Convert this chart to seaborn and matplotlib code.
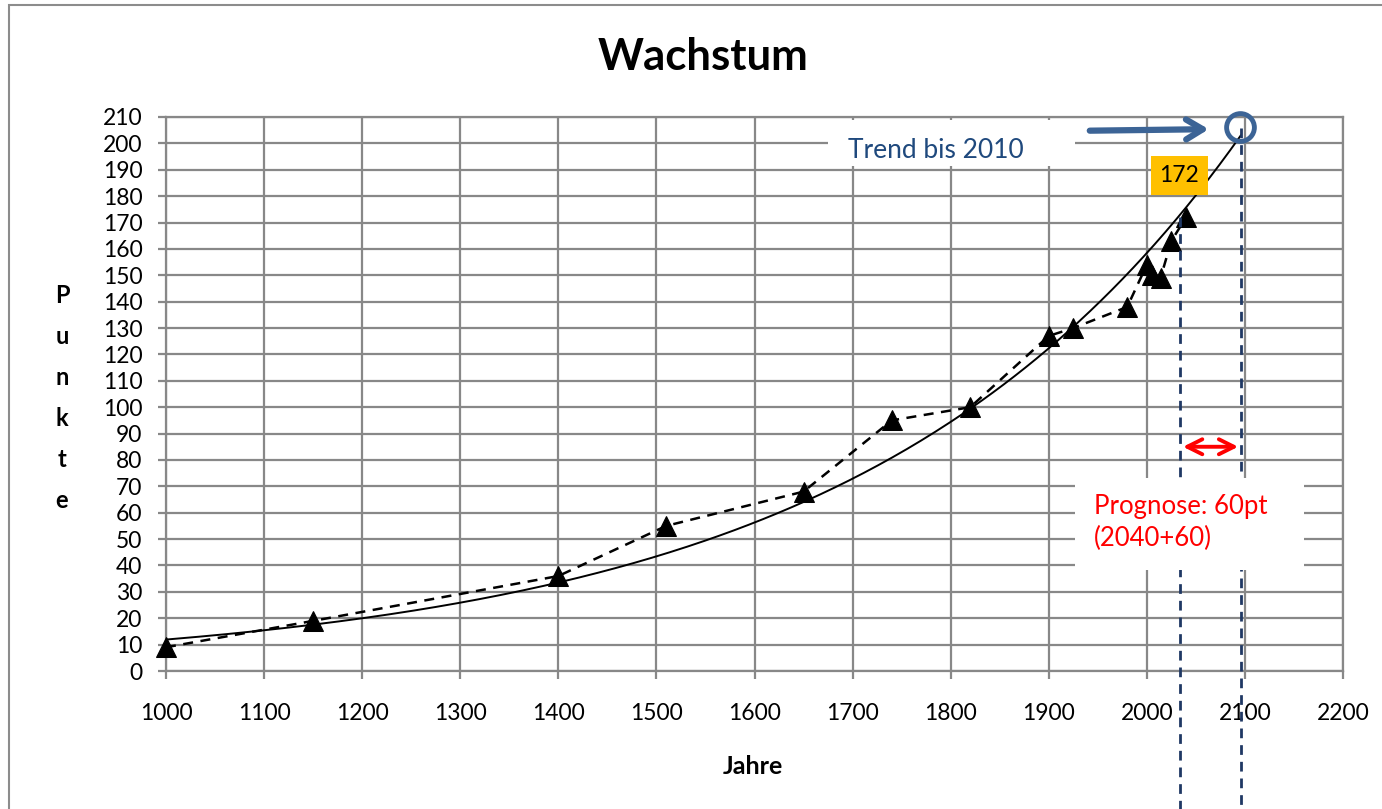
import numpy as np
import matplotlib
matplotlib.use("Agg")
import matplotlib.pyplot as plt
import seaborn as sns
from matplotlib.patches import Rectangle

# Data
years = [1000, 1150, 1400, 1510, 1650, 1740, 1820, 1900, 1925, 1980, 2000, 2005, 2014, 2025, 2040]
points = [9, 19, 36, 55, 68, 95, 100, 127, 130, 138, 154, 150, 149, 163, 172]
x_ticks = list(range(1000, 2201, 100))
y_ticks = list(range(0, 211, 10))
forecast_years = 60
last_value_label = "172"

sns.set_theme(style="white")
plt.rcParams['font.family'] = ['Lato', 'DejaVu Sans']
plt.rcParams['text.color'] = "black"

grid_col = "#888888"
navy = "#1F3864"
steel = "#3C6496"

fig = plt.figure(figsize=(13.82, 8.09), dpi=100)
ax = fig.add_axes([166 / 1382, 1 - 671 / 809, (1343 - 166) / 1382, (671 - 117) / 809])

# outer chart border (cropped on right / bottom)
fig.patches.append(Rectangle((9 / 1382, -0.1), 1.2, 1 - 5 / 809 + 0.1, transform=fig.transFigure,
                             fill=False, edgecolor="#8c8c8c", lw=1.5))

# exponential trend (least squares on ln y), extended forward
coef = np.polyfit(years, np.log(points), 1)
tx = np.linspace(years[0], years[-1] + forecast_years - 4, 300)
ty = np.exp(np.polyval(coef, tx))
ax.plot(tx, ty, color="black", lw=1.4, zorder=3)

sns.lineplot(x=years, y=points, ax=ax, color="black", linestyle="--", lw=1.8,
             marker="^", markersize=14, markeredgecolor="black", zorder=4)
ax.lines[-1].set_dashes((4, 3))
ax.lines[-1].set_clip_on(False)

ax.set_xlim(1000, 2200)
ax.set_ylim(0, 210)
ax.set_xticks(x_ticks)
ax.set_yticks(y_ticks)
ax.grid(True, color=grid_col, lw=1.6)
ax.set_axisbelow(True)
for s in ax.spines.values():
    s.set_color(grid_col)
    s.set_linewidth(1.6)
ax.tick_params(axis="both", which="major", length=6, width=1.6, color=grid_col,
               labelsize=16.5, labelcolor="black")
ax.tick_params(axis="x", pad=17)
ax.tick_params(axis="y", pad=11)
ax.tick_params(bottom=True, left=True)

fig.text(0.5087, 0.929, "Wachstum", ha="center", va="center", fontsize=31.5, fontweight="bold")
fig.text(0.5449, 0.053, "Jahre", ha="center", va="center", fontsize=18, fontweight="bold")
fig.text(0.0449, 0.508, "\n".join("Punkte"), ha="center", va="center", fontsize=17,
         fontweight="bold", linespacing=1.95)

# vertical forecast lines
x_last = years[-1] - 6
x_end = years[-1] + forecast_years - 4
ax.plot([x_last, x_last], [points[-1], -53], color=navy, lw=2, dashes=(3.5, 2.5), clip_on=False, zorder=5)
ax.plot([x_end, x_end], [206, -53], color=navy, lw=2, dashes=(3.5, 2.5), clip_on=False, zorder=5)

# "Trend bis 2010" box and arrow
ax.add_patch(Rectangle((1675, 191.4), 252, 17.6, facecolor="white", edgecolor="none", zorder=6))
ax.text(1695, 197.3, "Trend bis 2010", color="#1F497D", fontsize=19, va="center", ha="left", zorder=7)
ax.annotate("", xy=(2066, 205.4), xytext=(1939, 204.8),
            arrowprops=dict(arrowstyle="->,head_length=1.0,head_width=0.6", color=steel, lw=4.5),
            zorder=7, annotation_clip=False)
ax.plot([x_end - 1], [206.3], marker="o", markersize=20, mfc="none", mec=steel, mew=3.5,
        clip_on=False, zorder=8)

# value label of last point
ax.text(2033, 187.8, last_value_label, ha="center", va="center", fontsize=16.5, color="black",
        bbox=dict(boxstyle="square,pad=0.38", facecolor="#FFC000", edgecolor="none"), zorder=7)

# prognosis arrow and box
ax.annotate("", xy=(x_end, 85), xytext=(x_last, 85),
            arrowprops=dict(arrowstyle="<->,head_length=0.9,head_width=0.45", color="red", lw=2.8),
            zorder=7)
ax.add_patch(Rectangle((1927, 38.3), 233, 34.9, facecolor="white", edgecolor="none", zorder=6,
                       clip_on=False))
ax.text(1946, 56.3, "Prognose: 60pt\n(2040+60)", color="red", fontsize=18.5, va="center", ha="left",
        linespacing=1.35, zorder=7)

fig.savefig("out.png", dpi=100, facecolor="white")
